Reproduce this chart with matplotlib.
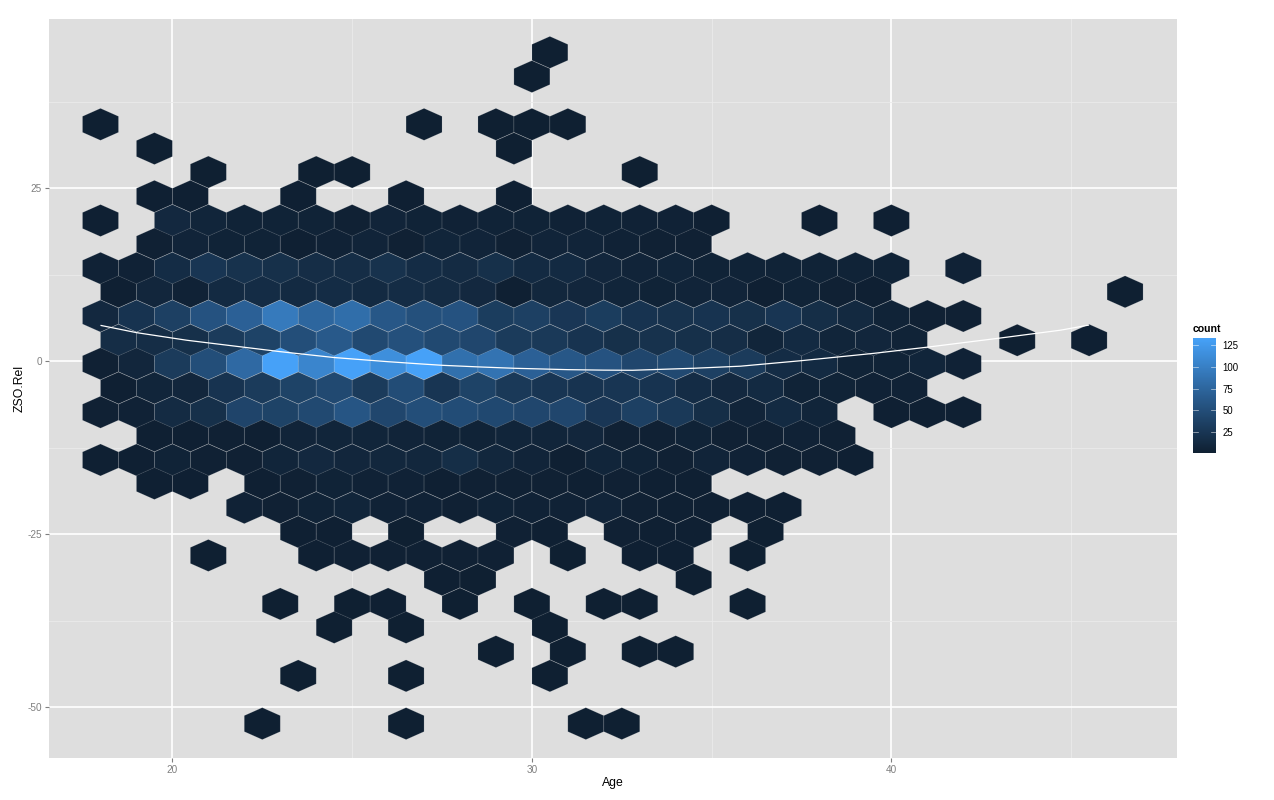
import numpy as np
import matplotlib
matplotlib.use("Agg")
import matplotlib.pyplot as plt
from matplotlib.collections import PolyCollection
from matplotlib.colors import LinearSegmentedColormap, Normalize
from matplotlib.cm import ScalarMappable

plt.rcParams['font.family'] = ['Liberation Sans', 'DejaVu Sans']
plt.rcParams['axes.unicode_minus'] = False

W, H = 1274, 800

# Hexagon rows: centre of the row on ZSO.Rel, age of the first cell, counts (0 = empty cell)
row_y = [44.6, 41.1, 34.2, 30.7, 27.3, 23.8, 20.3, 16.9, 13.4, 10.0, 6.5, 3.0, -0.4,
         -3.9, -7.4, -10.8, -14.3, -17.7, -21.2, -24.7, -28.1, -31.6, -35.1, -38.5,
         -42.0, -45.5, -52.4]
row_age0 = [30.5, 30, 18, 19.5, 21, 19.5, 18, 19.5, 18, 18.5, 18, 18.5, 18,
            18.5, 18, 19.5, 18, 19.5, 22, 23.5, 21, 27.5, 23, 24.5,
            29, 23.5, 22.5]
row_counts = [
    [1],
    [1],
    [1, 0, 0, 0, 0, 0, 0, 0, 0, 1, 0, 1, 1, 1],
    [1, 0, 0, 0, 0, 0, 0, 0, 0, 0, 1],
    [1, 0, 0, 1, 1, 0, 0, 0, 0, 0, 0, 0, 1],
    [2, 2, 0, 0, 2, 0, 0, 2, 0, 0, 2],
    [2, 0, 10, 7, 5, 5, 5, 3, 6, 5, 4, 5, 5, 4, 5, 4, 4, 2, 0, 0, 2, 0, 2],
    [3, 6, 5, 5, 2, 4, 6, 3, 7, 6, 3, 6, 6, 4, 3, 3],
    [4, 4, 14, 24, 20, 18, 15, 15, 20, 14, 13, 18, 12, 12, 8, 6, 7, 5, 5, 5, 5, 5, 5, 0, 4],
    [2, 8, 4, 12, 14, 12, 14, 12, 14, 13, 10, 2, 9, 8, 7, 5, 6, 6, 2, 5, 3, 2, 0, 0, 0, 0, 0, 0, 1],
    [10, 22, 35, 55, 70, 95, 75, 83, 60, 52, 55, 32, 35, 25, 32, 22, 20, 22, 18, 24, 16, 11, 5, 3, 3],
    [15, 15, 18, 30, 38, 50, 62, 45, 52, 45, 42, 30, 28, 22, 18, 20, 18, 15, 7, 12, 7, 8, 5, 0, 0, 1, 0, 2],
    [3, 8, 30, 50, 78, 133, 105, 133, 115, 133, 85, 88, 70, 60, 55, 42, 45, 35, 30, 14, 12, 5, 5, 7, 4],
    [2, 7, 8, 22, 30, 38, 45, 30, 48, 24, 38, 28, 24, 22, 24, 22, 14, 10, 12, 5, 5, 4, 4],
    [3, 4, 13, 18, 40, 38, 45, 58, 42, 50, 48, 44, 42, 42, 25, 35, 28, 16, 6, 12, 7, 0, 2, 2, 2],
    [2, 2, 3, 2, 6, 7, 7, 6, 5, 5, 7, 7, 8, 3, 3, 5, 3, 3, 4, 3],
    [2, 2, 5, 3, 3, 7, 10, 8, 9, 9, 16, 9, 6, 2, 7, 5, 3, 6, 4, 3, 3, 2],
    [2, 2, 0, 2, 3, 5, 4, 4, 2, 3, 3, 3, 2, 3, 2, 2],
    [4, 3, 5, 7, 4, 4, 3, 5, 4, 4, 6, 3, 2, 2, 2, 2],
    [2, 2, 0, 1, 0, 0, 3, 2, 0, 3, 2, 2, 0, 1],
    [1, 0, 0, 2, 3, 3, 3, 3, 3, 0, 1, 0, 2, 2, 0, 1],
    [2, 1, 0, 0, 0, 0, 0, 1],
    [1, 0, 1, 2, 0, 1, 0, 1, 0, 1, 1, 0, 0, 1],
    [1, 0, 1, 0, 0, 0, 1],
    [1, 0, 1, 0, 1, 1],
    [1, 0, 0, 1, 0, 0, 0, 1],
    [1, 0, 0, 0, 1, 0, 0, 0, 0, 1, 1],
]

# Smoother line
smooth_age = [18.0, 19.0, 20.4, 21.5, 22.45, 23.0, 24.5, 26.0, 26.9, 27.5, 28.5, 29.5, 31.0,
              32.0, 32.8, 34.5, 35.8, 37.5, 39.5, 41.0, 43.0, 44.7, 45.5]
smooth_zso = [5.15, 4.1, 3.0, 2.3, 1.7, 1.35, 0.5, -0.1, -0.42, -0.62, -0.85, -1.05, -1.25,
              -1.32, -1.34, -1.05, -0.75, 0.05, 1.1, 2.0, 3.3, 4.45, 5.2]

x_major = [20, 30, 40]
x_minor = [25, 35, 45]
y_major = [-50, -25, 0, 25]
y_minor = [-37.5, -12.5, 12.5, 37.5]
legend_ticks = [25, 50, 75, 100, 125]

cmap = LinearSegmentedColormap.from_list('gg', ['#0F2032', '#2A5E92', '#46A2F9'])
norm = Normalize(1, 134)

fig = plt.figure(figsize=(W / 100, H / 100), dpi=100, facecolor='white')


def rect(x0, y0, x1, y1):
    return [x0 / W, 1 - y1 / H, (x1 - x0) / W, (y1 - y0) / H]


ax = fig.add_axes(rect(49, 19, 1177, 758), facecolor='#DEDEDE')
ax.set_xlim(20 - 123.4 / 35.95, 20 + 1004.6 / 35.95)
ax.set_ylim(-397 / 6.92, 342 / 6.92)

for s in ax.spines.values():
    s.set_visible(False)

ax.set_axisbelow(True)
ax.set_xticks(x_major)
ax.set_yticks(y_major)
ax.set_xticks(x_minor, minor=True)
ax.set_yticks(y_minor, minor=True)
ax.grid(which='major', color='white', lw=1.2)
ax.grid(which='minor', color='#EBEBEB', lw=0.6)
ax.tick_params(which='minor', length=0)
ax.tick_params(which='major', length=3, width=0.8, color='#7F7F7F', labelcolor='#7F7F7F',
               labelsize=7.2, pad=2)

half_w = 0.5
radius = 2.31
verts, vals = [], []
for y, a0, counts in zip(row_y, row_age0, row_counts):
    for i, c in enumerate(counts):
        if c == 0:
            continue
        a = a0 + i
        verts.append([(a, y + radius), (a + half_w, y + radius / 2), (a + half_w, y - radius / 2),
                      (a, y - radius), (a - half_w, y - radius / 2), (a - half_w, y + radius / 2)])
        vals.append(c)

pc = PolyCollection(verts, array=np.array(vals, float), cmap=cmap, norm=norm,
                    edgecolors=(0.87, 0.87, 0.87, 0.2), linewidths=0.5, zorder=2)
ax.add_collection(pc)

ax.plot(smooth_age, smooth_zso, color='white', lw=0.9, zorder=3, solid_capstyle='butt')

ax.set_xlabel('Age', fontsize=8.8, color='black', labelpad=1.2)
ax.set_ylabel('ZSO.Rel', fontsize=8.8, color='black', labelpad=1.0)

# Legend
cax = fig.add_axes(rect(1193, 337.5, 1216, 452.5))
cb = fig.colorbar(ScalarMappable(norm=norm, cmap=cmap), cax=cax)
cb.outline.set_visible(False)
cb.set_ticks(legend_ticks)
cax.tick_params(length=0, labelsize=6.9, labelcolor='black', pad=4.5)
for t in legend_ticks:
    cax.plot([0, 0.2], [t, t], transform=cax.get_yaxis_transform(), color='white', lw=0.5, alpha=0.7)
    cax.plot([0.8, 1], [t, t], transform=cax.get_yaxis_transform(), color='white', lw=0.5, alpha=0.7)
fig.text(1193 / W, 1 - 329 / H, 'count', fontsize=7.6, fontweight='bold', color='black',
         ha='left', va='center')

fig.savefig('out.png', dpi=100)
